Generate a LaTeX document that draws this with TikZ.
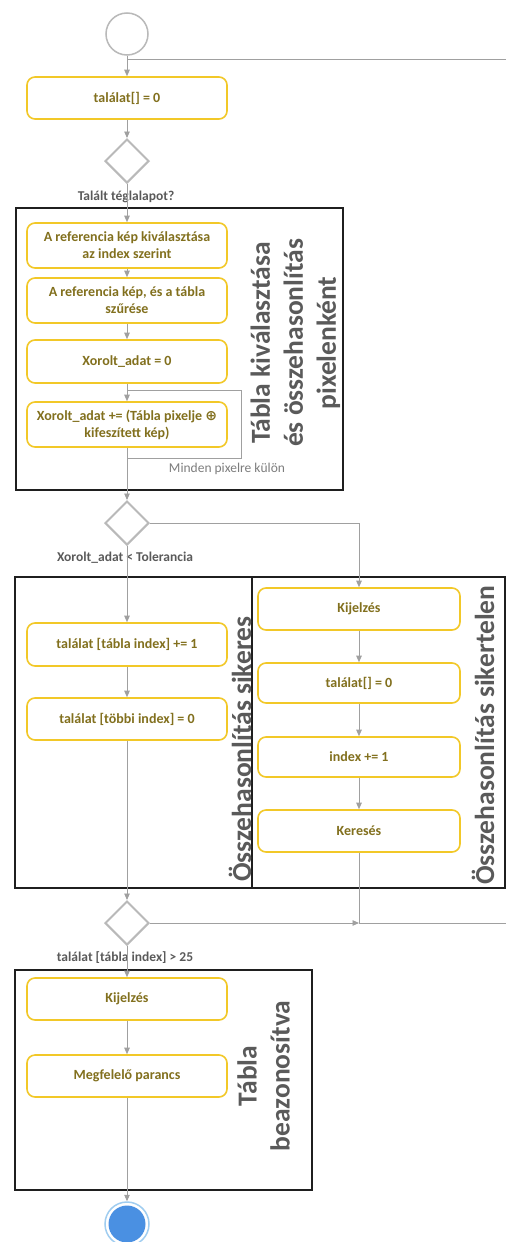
\documentclass[tikz,border=0pt]{standalone}
\usepackage{fontspec}
\setmainfont{Carlito}
\newfontfamily\symbolfont{DejaVu Sans}
\usetikzlibrary{shapes.geometric,arrows.meta}
\definecolor{flowline}{RGB}{160,160,160}
\definecolor{taskedge}{RGB}{242,200,40}
\definecolor{tasktext}{RGB}{130,112,30}
\definecolor{lanetext}{RGB}{90,90,90}
\definecolor{notetext}{RGB}{125,125,125}
\definecolor{gatewayedge}{RGB}{185,185,185}
\definecolor{endfill}{RGB}{74,144,226}
\definecolor{endring}{RGB}{160,205,240}

\begin{document}
\begin{tikzpicture}[x=1pt,y=-1pt,
  task/.style={draw=taskedge, line width=1.6pt, rounded corners=8pt, fill=white,
    text=tasktext, font=\fontsize{14}{17}\selectfont\bfseries, align=center,
    minimum width=200pt, inner sep=0pt},
  gateway/.style={diamond, aspect=1, draw=gatewayedge, line width=2pt, fill=white,
    minimum size=44pt, inner sep=0pt},
  lane/.style={draw=black!88, line width=2pt},
  lanetitle/.style={rotate=90, text=lanetext, font=\fontsize{27.5}{33}\selectfont\bfseries,
    align=center, inner sep=0pt},
  cond/.style={text=lanetext, font=\fontsize{13.5}{16}\selectfont\bfseries, inner sep=0pt},
  flow/.style={draw=flowline, line width=0.9pt},
  arr/.style={flow, -{Triangle[length=6.5pt,width=5.5pt]}},
]
\useasboundingbox (0,0) rectangle (506,1242);
\fill[white] (0,0) rectangle (506,1242);

% swimlane frames
\draw[lane] (16,208) rectangle (343,490);
\draw[lane] (15,577) rectangle (252,888);
\draw[lane] (252,577) rectangle (505,888);
\draw[lane] (15,970) rectangle (312,1190);

% start and initialisation
\node[circle, draw=gatewayedge, line width=1.5pt, minimum size=42pt, inner sep=0pt] (start) at (127,34) {};
\node[task, minimum height=42pt] (init) at (127,98) {találat[] = 0};
\node[gateway] (g1) at (127,161) {};
\node[cond] (c1) at (126,197) {Talált téglalapot?};

% table selection and pixel comparison
\node[task, minimum height=45pt] (selref) at (127,245.5) {A referencia kép kiválasztása\\az index szerint};
\node[task, minimum height=45pt] (filter) at (127,300.5) {A referencia kép, és a tábla\\szűrése};
\node[task, minimum height=43pt] (xzero) at (127,361.5) {Xorolt\_adat = 0};
\node[task, minimum height=45pt] (xacc) at (127,424.5) {Xorolt\_adat += (Tábla pixelje {\symbolfont\bfseries ⊕}\\kifeszített kép)};
\coordinate (loopin) at (127,390);
\coordinate (loopout) at (127,458);
\coordinate (loopright) at (241,458);
\coordinate (looptop) at (241,390);
\node[text=notetext, font=\fontsize{13.5}{16}\selectfont, inner sep=0pt] (each) at (227,469) {Minden pixelre külön};
\node[lanetitle] (t1) at (295.5,343) {Tábla kiválasztása\\és összehasonlítás\\pixelenként};

% tolerance decision
\node[gateway] (g2) at (127,523) {};
\node[cond] (c2) at (125,558) {Xorolt\_adat < Tolerancia};

% successful comparison
\node[task, minimum height=43pt] (hit) at (127,644.5) {találat [tábla index] += 1};
\node[task, minimum height=42pt] (others) at (127,719) {találat [többi index] = 0};
\node[lanetitle, anchor=west] (t2) at (240,882) {Összehasonlítás sikeres};

% failed comparison
\node[task, minimum width=202pt, minimum height=42pt] (show) at (359,609) {Kijelzés};
\node[task, minimum width=202pt, minimum height=40pt] (reset) at (359,683) {találat[] = 0};
\node[task, minimum width=202pt, minimum height=40pt] (next) at (359,757) {index += 1};
\node[task, minimum width=202pt, minimum height=42pt] (search) at (359,831) {Keresés};
\node[lanetitle, anchor=west] (t3) at (483,885) {Összehasonlítás sikertelen};

% identification decision
\node[gateway] (g3) at (127,923) {};
\node[cond] (c3) at (125,958) {találat [tábla index] > 25};
\coordinate (merge) at (359,923);
\coordinate (loopback) at (506,923);
\coordinate (reentry) at (506,59);
\coordinate (join) at (127,59);

% table identified
\node[task, minimum height=42pt] (show2) at (127,999) {Kijelzés};
\node[task, minimum height=42pt] (cmd) at (127,1076) {Megfelelő parancs};
\node[lanetitle] (t4) at (263.5,1076) {Tábla\\beazonosítva};

% end event
\node[circle, draw=endring, line width=1.5pt, minimum size=44pt, inner sep=0pt] (end) at (127,1224) {};
\node[circle, fill=endfill, minimum size=37pt, inner sep=0pt] (endcore) at (end.center) {};

% sequence flows
\draw[arr] (start) -- (init);
\draw[flow] (reentry) -- (join);
\draw[arr] (init) -- (g1);
\draw[arr] (g1) -- (selref);
\draw[arr] (selref) -- (filter);
\draw[arr] (filter) -- (xzero);
\draw[arr] (xzero) -- (xacc);
\draw[flow] (loopout) -- (loopright) -- (looptop) -- (loopin);
\draw[arr] (xacc) -- (g2);
\draw[arr] (g2) -- (hit);
\draw[arr] (g2.east) -| (show);
\draw[arr] (hit) -- (others);
\draw[arr] (others) -- (g3);
\draw[arr] (show) -- (reset);
\draw[arr] (reset) -- (next);
\draw[arr] (next) -- (search);
\draw[flow] (search) -- (merge);
\draw[arr] (g3.east) -- (merge);
\draw[flow] (merge) -- (loopback);
\draw[arr] (g3) -- (show2);
\draw[arr] (show2) -- (cmd);
\draw[arr] (cmd) -- (end);
\end{tikzpicture}
\end{document}
